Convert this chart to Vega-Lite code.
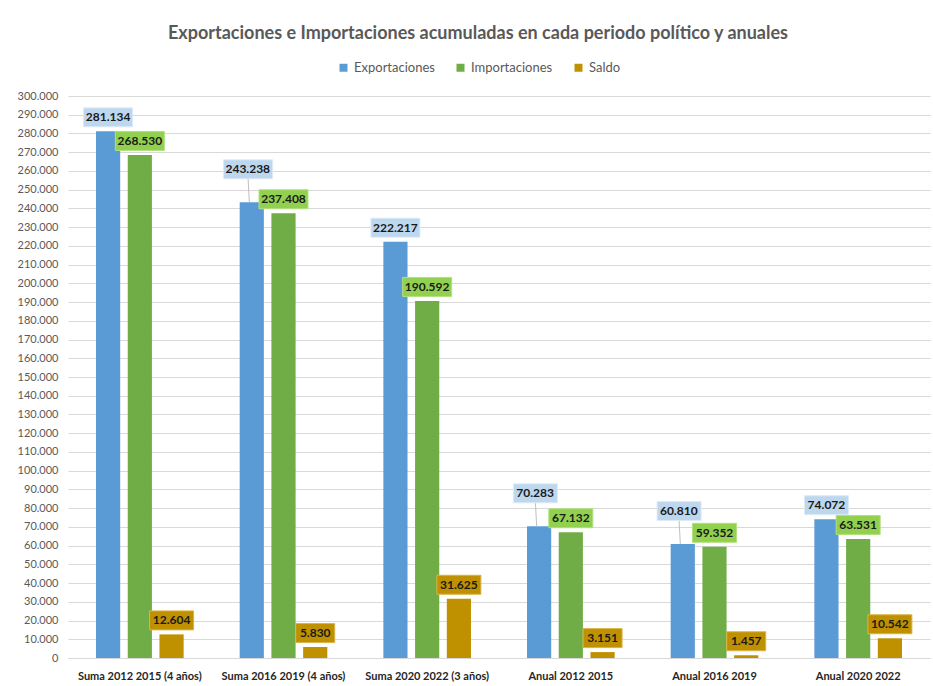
{
  "$schema": "https://vega.github.io/schema/vega-lite/v6.json",
  "autosize": "none",
  "width": 862,
  "height": 562,
  "padding": {"left": 68, "top": 96, "right": 3, "bottom": 28},
  "background": "white",
  "title": {
    "text": "Exportaciones e Importaciones acumuladas en cada periodo político y anuales",
    "font": "Lato",
    "fontSize": 18,
    "fontWeight": "bold",
    "color": "#595959",
    "anchor": "middle",
    "dx": -21,
    "offset": 18
  },
  "config": {
    "view": {"stroke": null},
    "locale": {"number": {"decimal": ",", "thousands": ".", "grouping": [3], "currency": ["", " €"]}}
  },
  "data": {
    "values": [
      {"periodo": "Suma 2012 2015 (4 años)", "serie": "Exportaciones", "valor": 281134},
      {"periodo": "Suma 2012 2015 (4 años)", "serie": "Importaciones", "valor": 268530},
      {"periodo": "Suma 2012 2015 (4 años)", "serie": "Saldo", "valor": 12604},
      {"periodo": "Suma 2016 2019 (4 años)", "serie": "Exportaciones", "valor": 243238},
      {"periodo": "Suma 2016 2019 (4 años)", "serie": "Importaciones", "valor": 237408},
      {"periodo": "Suma 2016 2019 (4 años)", "serie": "Saldo", "valor": 5830},
      {"periodo": "Suma 2020 2022 (3 años)", "serie": "Exportaciones", "valor": 222217},
      {"periodo": "Suma 2020 2022 (3 años)", "serie": "Importaciones", "valor": 190592},
      {"periodo": "Suma 2020 2022 (3 años)", "serie": "Saldo", "valor": 31625},
      {"periodo": "Anual 2012 2015", "serie": "Exportaciones", "valor": 70283},
      {"periodo": "Anual 2012 2015", "serie": "Importaciones", "valor": 67132},
      {"periodo": "Anual 2012 2015", "serie": "Saldo", "valor": 3151},
      {"periodo": "Anual 2016 2019", "serie": "Exportaciones", "valor": 60810},
      {"periodo": "Anual 2016 2019", "serie": "Importaciones", "valor": 59352},
      {"periodo": "Anual 2016 2019", "serie": "Saldo", "valor": 1457},
      {"periodo": "Anual 2020 2022", "serie": "Exportaciones", "valor": 74072},
      {"periodo": "Anual 2020 2022", "serie": "Importaciones", "valor": 63531},
      {"periodo": "Anual 2020 2022", "serie": "Saldo", "valor": 10542}
    ]
  },
  "encoding": {
    "x": {
      "field": "periodo",
      "type": "nominal",
      "sort": null,
      "scale": {"paddingInner": 0.39, "paddingOuter": 0.195},
      "axis": {
        "title": null,
        "labelAngle": 0,
        "ticks": false,
        "tickSize": 0,
        "domain": true,
        "domainColor": "#d9d9d9",
        "domainWidth": 1,
        "labelPadding": 12,
        "labelFont": "Lato",
        "labelFontSize": 11,
        "labelFontWeight": "bold",
        "labelColor": "#262626"
      }
    },
    "xOffset": {
      "field": "serie",
      "type": "nominal",
      "scale": {"paddingInner": 0.238, "paddingOuter": 0}
    },
    "y": {
      "field": "valor",
      "type": "quantitative",
      "scale": {"domain": [0, 300000], "nice": false},
      "axis": {
        "title": null,
        "values": [0, 10000, 20000, 30000, 40000, 50000, 60000, 70000, 80000, 90000, 100000, 110000, 120000, 130000, 140000, 150000, 160000, 170000, 180000, 190000, 200000, 210000, 220000, 230000, 240000, 250000, 260000, 270000, 280000, 290000, 300000],
        "format": ",.0f",
        "domain": false,
        "ticks": false,
        "tickSize": 0,
        "labelPadding": 10,
        "grid": true,
        "gridColor": "#d9d9d9",
        "gridWidth": 1,
        "labelFont": "Lato",
        "labelFontSize": 11,
        "labelColor": "#595959"
      }
    }
  },
  "layer": [
    {
      "mark": {"type": "bar"},
      "encoding": {
        "color": {
          "field": "serie",
          "type": "nominal",
          "scale": {"domain": ["Exportaciones", "Importaciones", "Saldo"], "range": ["#5B9BD5", "#70AD47", "#BF9000"]},
          "legend": {
            "title": null,
            "orient": "none",
            "direction": "horizontal",
            "legendX": 269,
            "legendY": -35,
            "symbolType": "square",
            "symbolSize": 64,
            "symbolStrokeWidth": 0,
            "labelFont": "Lato",
            "labelFontSize": 13,
            "labelColor": "#595959",
            "labelOffset": 4,
            "columnPadding": 19
          }
        }
      }
    },
    {
      "transform": [{"filter": "datum.serie == 'Exportaciones' && (datum.periodo == 'Suma 2016 2019 (4 años)' || datum.periodo == 'Anual 2012 2015' || datum.periodo == 'Anual 2016 2019')"}],
      "mark": {"type": "point", "filled": false, "opacity": 1, "size": 2401, "stroke": "#bfbfbf", "strokeWidth": 1, "shape": "M-0.1,0L-0.15,-0.959"}
    },
    {
      "transform": [{"filter": "!(datum.serie == 'Exportaciones' && (datum.periodo == 'Suma 2016 2019 (4 años)' || datum.periodo == 'Anual 2012 2015' || datum.periodo == 'Anual 2016 2019'))"}],
      "layer": [
        {
          "mark": {"type": "point", "filled": true, "opacity": 1, "size": 2401, "strokeWidth": 1},
          "encoding": {
            "shape": {
              "condition": [
                {"test": "datum.valor >= 100000", "value": "M-1,-0.959H1V-0.184H-1Z"},
                {"test": "datum.valor >= 10000", "value": "M-0.898,-0.959H0.898V-0.184H-0.898Z"}
              ],
              "value": "M-0.796,-0.959H0.796V-0.184H-0.796Z"
            },
            "fill": {
              "field": "serie",
              "type": "nominal",
              "scale": {"domain": ["Exportaciones", "Importaciones", "Saldo"], "range": ["#BDD7EE", "#92D050", "#BF9000"]},
              "legend": null
            },
            "stroke": {
              "field": "serie",
              "type": "nominal",
              "scale": {"domain": ["Exportaciones", "Importaciones", "Saldo"], "range": ["#DDEBF7", "#B4E07F", "#D9B44A"]},
              "legend": null
            }
          }
        },
        {
          "mark": {"type": "text", "baseline": "middle", "align": "center", "dy": -14, "font": "Lato", "fontSize": 12, "fontWeight": "bold", "color": "#1a1a1a"},
          "encoding": {
            "text": {"field": "valor", "type": "quantitative", "format": ",.0f"}
          }
        }
      ]
    },
    {
      "transform": [{"filter": "datum.serie == 'Exportaciones' && (datum.periodo == 'Suma 2016 2019 (4 años)' || datum.periodo == 'Anual 2012 2015' || datum.periodo == 'Anual 2016 2019')"}],
      "layer": [
        {
          "mark": {"type": "point", "filled": true, "opacity": 1, "size": 2401, "strokeWidth": 1, "fill": "#BDD7EE", "stroke": "#DDEBF7"},
          "encoding": {
            "shape": {
              "condition": [
                {"test": "datum.valor >= 100000", "value": "M-1.15,-1.735H0.85V-0.959H-1.15Z"}
              ],
              "value": "M-1.048,-1.735H0.748V-0.959H-1.048Z"
            }
          }
        },
        {
          "mark": {"type": "text", "baseline": "middle", "align": "center", "dx": -4, "dy": -33, "font": "Lato", "fontSize": 12, "fontWeight": "bold", "color": "#1a1a1a"},
          "encoding": {
            "text": {"field": "valor", "type": "quantitative", "format": ",.0f"}
          }
        }
      ]
    }
  ]
}
